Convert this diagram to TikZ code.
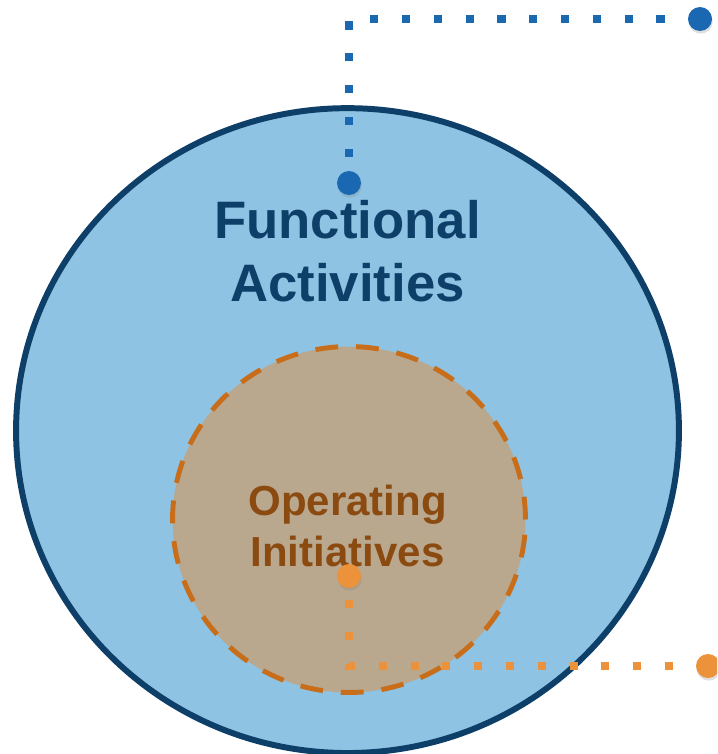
\documentclass[tikz,border=0pt]{standalone}
\usepackage{fontspec}
\setsansfont{Liberation Sans}
\usetikzlibrary{shapes.geometric,shadows}

\definecolor{fafill}{HTML}{8EC3E3}
\definecolor{faline}{HTML}{0E3F69}
\definecolor{oifill}{HTML}{BAA88E}
\definecolor{oiline}{HTML}{C86E1A}
\definecolor{oitext}{HTML}{8A4A10}
\definecolor{bluedot}{HTML}{1A67B2}
\definecolor{orangedot}{HTML}{EC923A}

\tikzset{
  leaddot/.style={circle, inner sep=0pt, minimum size=0.48cm, fill=#1,
    drop shadow={shadow xshift=0.4pt, shadow yshift=-1.5pt, opacity=0.25}},
  leader/.style={line width=4.6pt, draw=#1, dash pattern=on 4.6pt off 13.5pt},
}

\begin{document}
\begin{tikzpicture}[x=0.02cm, y=-0.02cm, line join=miter]
    \clip (0,0) rectangle (717,754);

    % the two areas
    \node[ellipse, draw=faline, line width=3.4pt, fill=fafill, inner sep=0pt,
      minimum width=13.26cm, minimum height=12.9cm] (fa) at (347.5,430.6) {};
    \node[ellipse, draw=oiline, line width=2.8pt, dash pattern=on 13pt off 10.2pt,
      fill=oifill, inner sep=0pt,
      minimum width=7.06cm, minimum height=6.92cm] (oi) at (349,519.5) {};

    \node[text=faline, align=center, inner sep=0pt,
      font=\sffamily\bfseries\fontsize{30pt}{35.7pt}\selectfont] (fatext)
      at (347.5,251) {Functional\\Activities};
    \node[text=oitext, align=center, inner sep=0pt,
      font=\sffamily\bfseries\fontsize{23.9pt}{29.5pt}\selectfont] (oitext)
      at (347.5,526) {Operating\\Initiatives};

    % callout dots and leaders
    \node[leaddot=bluedot] (fastart) at (349,183) {};
    \node[leaddot=bluedot] (faend) at (700,19) {};
    \node[leaddot=orangedot] (oistart) at (349,576) {};
    \node[leaddot=orangedot] (oiend) at (708,666) {};

    \draw[leader=bluedot, dash phase=10.2pt] (fastart) |- (faend);
    \draw[leader=orangedot, dash phase=11.3pt] (oistart) |- (oiend);
\end{tikzpicture}
\end{document}
